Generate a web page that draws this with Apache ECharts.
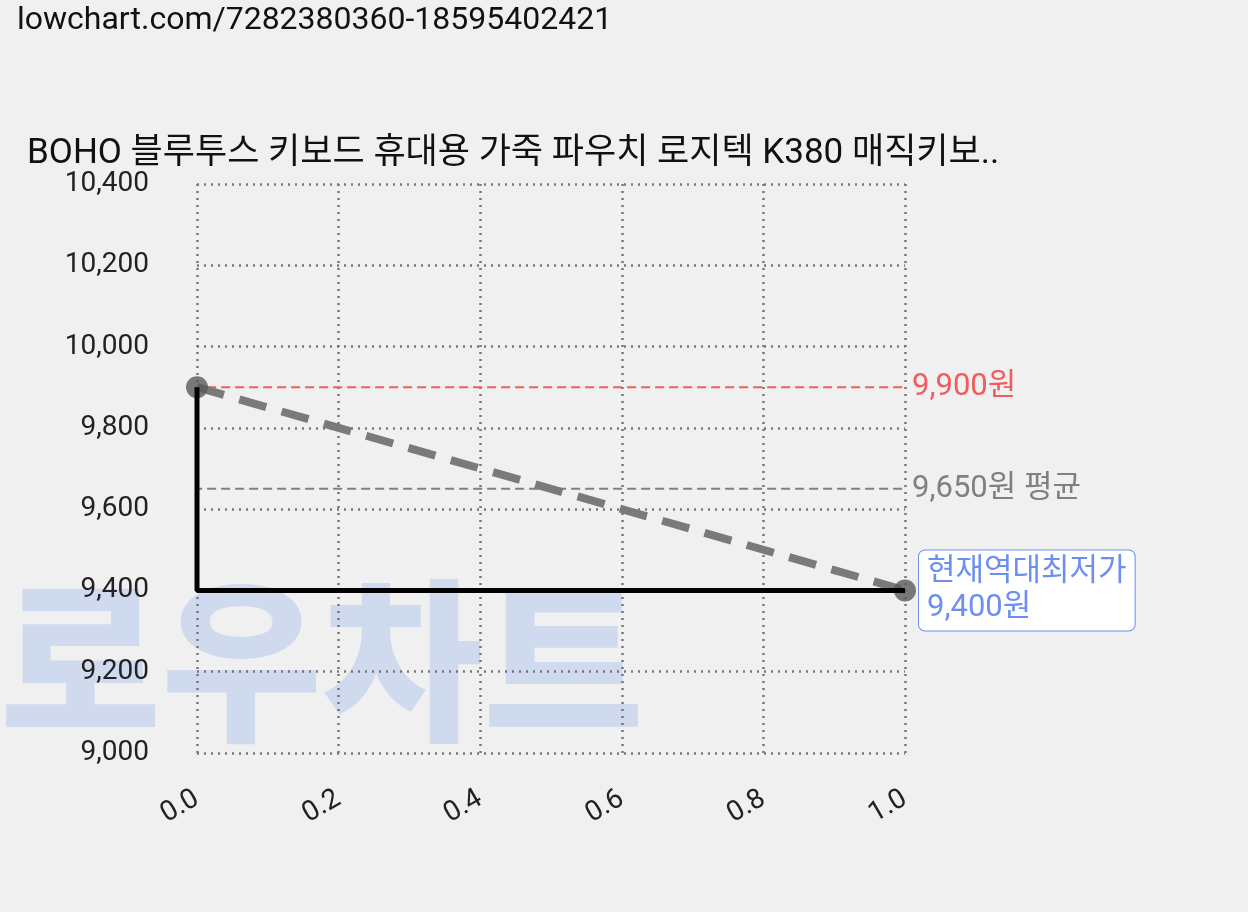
<!DOCTYPE html><html><head><meta charset="utf-8"><script src="https://cdn.jsdelivr.net/npm/echarts@6/dist/echarts.min.js"></script></head><body style="margin:0;background:#f0f0f0"><div id="c" style="width:1248px;height:912px"></div><script>
const stepLine=[[0,9900],[0,9400],[1,9400]];
const trendLine=[[0,9900],[1,9400]];
const maxPrice=9900, avgPrice=9650, minPrice=9400;
const yTicks=[9000,9200,9400,9600,9800,10000,10200,10400];
const F='Roboto, "Noto Sans CJK KR", sans-serif';
function ref(y,end,color,text,box){
 const lab={show:true,formatter:text,color:color,fontSize:31,lineHeight:36,fontFamily:F,distance:6};
 if(box)Object.assign(lab,{distance:14,backgroundColor:'#fff',borderColor:color,borderWidth:1,borderRadius:6,padding:[4,8,4,8]});
 return {type:'line',data:[[-0.045,y],[end,y]],clip:false,z:2,symbol:'none',silent:true,
 lineStyle:{color:color,type:[9,5],width:2},endLabel:lab};
}
const c=echarts.init(document.getElementById('c'));
c.setOption({backgroundColor:'#f0f0f0',animation:false,
title:[{text:'lowchart.com/7282380360-18595402421',left:12,top:0,textStyle:{fontSize:32,fontWeight:'normal',color:'#111',fontFamily:F}},
{text:'BOHO 블루투스 키보드 휴대용 가죽 파우치 로지텍 K380 매직키보..',left:22,top:132,textStyle:{fontSize:35,fontWeight:'normal',color:'#111',fontFamily:F}}],
graphic:[{type:'text',left:0,top:596,z:0,style:{text:'로우차트',fontSize:175,fontWeight:900,fill:'rgba(110,150,230,0.25)',fontFamily:F}}],
grid:{left:197,right:343,top:184,bottom:159},
xAxis:{type:'value',min:0,max:1,interval:0.2,axisLine:{show:false},axisTick:{show:false},
axisLabel:{rotate:30,margin:44,fontSize:28,color:'#222',fontFamily:F,formatter:v=>v.toFixed(1)},
splitLine:{lineStyle:{type:[2,5],color:'#777',width:2.5}}},
yAxis:{type:'value',min:yTicks[0],max:yTicks[yTicks.length-1],interval:200,axisLine:{show:false},axisTick:{show:false},
axisLabel:{fontSize:28,color:'#222',fontFamily:F,margin:48,formatter:v=>v.toLocaleString('en-US')},
splitLine:{lineStyle:{type:[2,5],color:'#777',width:2.5}}},
series:[
ref(maxPrice,1.043,'#f25c5c','9,900원',false),
ref(avgPrice,1.043,'#808080','9,650원 평균',false),
ref(minPrice,1.0,'#6c8ff0','현재역대최저가\n9,400원',true),
{type:'line',data:trendLine,z:3,clip:false,symbol:'circle',symbolSize:22,itemStyle:{color:'rgba(90,90,90,0.8)'},lineStyle:{color:'#7a7a7a',width:8,type:[28,16]}},
{type:'line',data:stepLine,z:4,symbol:'none',clip:false,lineStyle:{color:'#000',width:5}}
]});
</script></body></html>
